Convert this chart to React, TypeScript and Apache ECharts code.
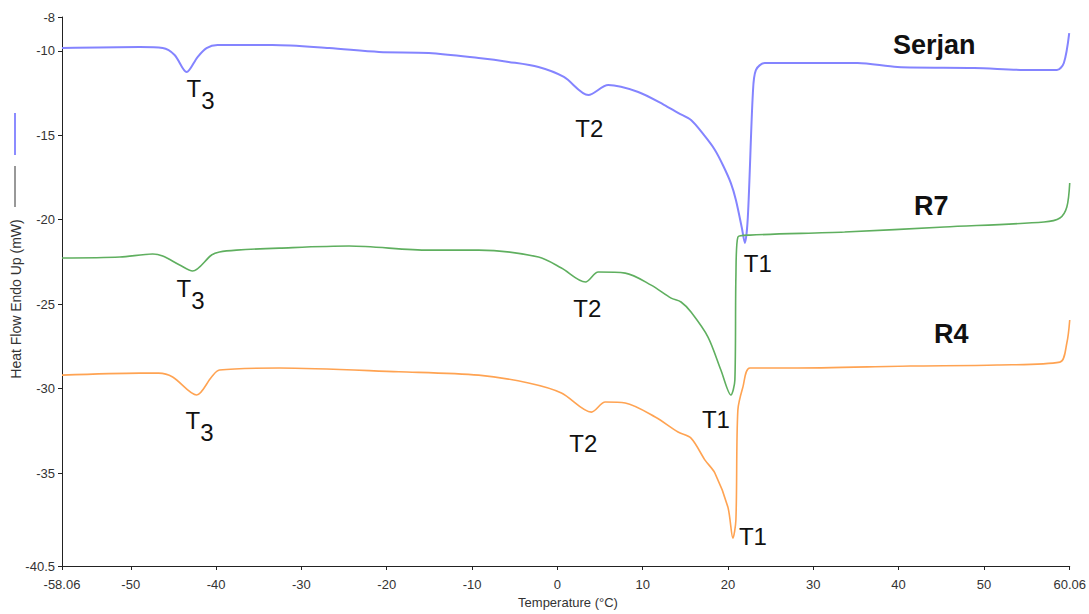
import React, { useEffect, useRef } from "react";
import * as echarts from "echarts";

const xTicks = [-58.06, -50, -40, -30, -20, -10, 0, 10, 20, 30, 40, 50, 60.06];
const yTicks = [-40.5, -35, -30, -25, -20, -15, -10, -8];

const serjan: [number, number][] = [
  [-58.06, -9.84], [-48.95, -9.78], [-46.26, -9.84], [-44.86, -10.25], [-43.45, -11.26],
  [-42.17, -10.37], [-41.12, -9.84], [-39.83, -9.66], [-33.4, -9.66], [-26.74, -9.84],
  [-20.9, -10.07], [-15.06, -10.13], [-9.22, -10.43], [-5.71, -10.66], [-2.21, -10.96],
  [0.77, -11.55], [3.64, -12.62], [5.97, -12.03], [9.48, -12.44], [12.5, -13.2], [14.15, -13.68],
  [15.67, -14.1], [17.2, -15.0], [18.47, -15.87], [19.4, -16.76], [20.34, -17.83], [20.93, -18.83],
  [21.63, -20.49], [21.98, -21.38], [22.33, -19.84], [22.92, -12.5], [23.27, -11.14],
  [24.32, -10.72], [27.01, -10.72], [35.19, -10.72], [39.86, -10.96], [48.86, -11.02],
  [55.4, -11.14], [58.56, -11.14], [59.37, -10.72], [60.0, -8.95],
];

const r7: [number, number][] = [
  [-58.06, -22.27], [-51.28, -22.21], [-47.43, -22.03], [-46.26, -22.15], [-44.27, -22.68],
  [-42.75, -23.04], [-40.53, -22.09], [-39.6, -21.91], [-37.61, -21.8], [-32.59, -21.68],
  [-24.41, -21.56], [-15.06, -21.8], [-9.22, -21.8], [-2.21, -22.21], [0.48, -22.86],
  [3.29, -23.69], [4.8, -23.1], [7.96, -23.16], [11.0, -23.87], [13.34, -24.64],
  [14.5, -24.87], [15.67, -25.47], [17.66, -26.95], [19.17, -28.9], [20.34, -30.38],
  [20.81, -29.49], [20.93, -23.39], [21.16, -21.03], [22.57, -20.91], [33.67, -20.73],
  [45.35, -20.43], [57.04, -20.14], [58.91, -19.9], [59.72, -19.25], [60.06, -17.83],
];

const r4: [number, number][] = [
  [-58.06, -29.2], [-48.95, -29.08], [-46.73, -29.08], [-45.09, -29.31], [-42.28, -30.38],
  [-40.53, -29.31], [-39.6, -28.9], [-32.59, -28.78], [-18.57, -29.0], [-9.22, -29.2],
  [-3.38, -29.67], [0.48, -30.26], [3.99, -31.39], [5.62, -30.79], [7.96, -30.85],
  [11.47, -31.68], [14.15, -32.57], [15.67, -32.93], [17.31, -34.23], [18.47, -35.0],
  [19.99, -37.01], [20.58, -38.85], [20.93, -37.78], [21.16, -31.27], [21.75, -29.91],
  [22.57, -28.78], [27.36, -28.78], [41.38, -28.66], [51.55, -28.6], [58.91, -28.43],
  [59.72, -27.3], [60.06, -25.94],
];

// annotation anchors (label centres, data units)
const serjanNotes = [
  { text: "T3", x: -41.82, y: -12.56 },
  { text: "T2", x: 3.75, y: -14.63 },
  { text: "T1", x: 23.5, y: -22.62 },
];
const r7Notes = [
  { text: "T3", x: -42.99, y: -24.4 },
  { text: "T2", x: 3.52, y: -25.23 },
  { text: "T1", x: 18.59, y: -31.8 },
];
const r4Notes = [
  { text: "T3", x: -41.93, y: -32.22 },
  { text: "T2", x: 3.05, y: -33.22 },
  { text: "T1", x: 22.92, y: -38.73 },
];
const seriesNames = [
  { text: "Serjan", x: 44.18, y: -9.66 },
  { text: "R7", x: 43.83, y: -19.19 },
  { text: "R4", x: 46.17, y: -26.77 },
];

const FONT = "'Liberation Sans', Arial, sans-serif";

function notePoints(notes: { text: string; x: number; y: number }[], name: { text: string; x: number; y: number }) {
  const data: any[] = notes.map((n) => {
    const isSub = n.text === "T3";
    return {
      coord: [n.x, n.y],
      label: {
        formatter: isSub ? "{t|T}{s|3}" : n.text,
        rich: isSub
          ? {
              t: { fontSize: 24, lineHeight: 24, verticalAlign: "top", color: "#111", fontFamily: FONT },
              s: { fontSize: 24, lineHeight: 36, verticalAlign: "bottom", color: "#111", fontFamily: FONT },
            }
          : undefined,
      },
    };
  });
  data.push({
    coord: [name.x, name.y],
    label: { formatter: name.text, fontWeight: "bold", fontSize: 27 },
  });
  return {
    symbol: "rect",
    symbolSize: 1,
    silent: true,
    itemStyle: { color: "rgba(0,0,0,0)" },
    label: {
      show: true,
      position: "inside",
      align: "center",
      verticalAlign: "middle",
      color: "#111",
      fontSize: 24,
      fontFamily: FONT,
    },
    data,
  };
}

export default function App() {
  const ref = useRef<HTMLDivElement>(null);
  useEffect(() => {
    const chart = echarts.init(ref.current!, null, { renderer: "svg" });
    chart.setOption({
      animation: false,
      backgroundColor: "#fff",
      grid: { left: 62, right: 16, top: 17, bottom: 48, containLabel: false },
      xAxis: {
        type: "value",
        min: -58.06,
        max: 60.06,
        splitLine: { show: false },
        axisLine: { show: true, onZero: false, lineStyle: { color: "#222", width: 1 } },
        axisTick: { show: true, length: 4, customValues: xTicks, lineStyle: { color: "#222" } },
        axisLabel: {
          customValues: xTicks,
          color: "#333",
          fontSize: 13,
          fontFamily: FONT,
          margin: 12,
          formatter: (v: number) => String(v),
        },
      },
      yAxis: {
        type: "value",
        min: -40.5,
        max: -8,
        splitLine: { show: false },
        axisLine: { show: true, onZero: false, lineStyle: { color: "#222", width: 1 } },
        axisTick: { show: true, length: 4, customValues: yTicks, lineStyle: { color: "#222" } },
        axisLabel: {
          customValues: yTicks,
          color: "#333",
          fontSize: 13,
          fontFamily: FONT,
          margin: 7,
          formatter: (v: number) => String(v),
        },
      },
      graphic: [
        { type: "line", shape: { x1: 15, y1: 113, x2: 15, y2: 155 }, style: { stroke: "#8c8cff", lineWidth: 2 } },
        { type: "line", shape: { x1: 15, y1: 166, x2: 15, y2: 207 }, style: { stroke: "#333", lineWidth: 1 } },
        {
          type: "text",
          x: 16,
          y: 299,
          rotation: Math.PI / 2,
          style: {
            text: "Heat Flow Endo Up (mW)",
            fontSize: 14,
            fontFamily: FONT,
            fill: "#333",
            align: "center",
            verticalAlign: "middle",
          },
        },
        {
          type: "text",
          x: 568,
          y: 602,
          style: {
            text: "Temperature (°C)",
            fontSize: 13,
            fontFamily: FONT,
            fill: "#333",
            align: "center",
            verticalAlign: "middle",
          },
        },
      ],
      series: [
        {
          name: "Serjan",
          type: "line",
          data: serjan,
          showSymbol: false,
          symbol: "none",
          smooth: 0.3,
          lineStyle: { color: "#8484ff", width: 2 },
          markPoint: notePoints(serjanNotes, seriesNames[0]),
        },
        {
          name: "R7",
          type: "line",
          data: r7,
          showSymbol: false,
          symbol: "none",
          smooth: 0.3,
          lineStyle: { color: "#5faf5f", width: 1.6 },
          markPoint: notePoints(r7Notes, seriesNames[1]),
        },
        {
          name: "R4",
          type: "line",
          data: r4,
          showSymbol: false,
          symbol: "none",
          smooth: 0.3,
          lineStyle: { color: "#ffa352", width: 1.6 },
          markPoint: notePoints(r4Notes, seriesNames[2]),
        },
      ],
    });
    return () => chart.dispose();
  }, []);
  return (
    <div
      ref={ref}
      style={{ position: "absolute", left: 0, top: 0, width: 1089, height: 614, background: "#fff" }}
    />
  );
}
